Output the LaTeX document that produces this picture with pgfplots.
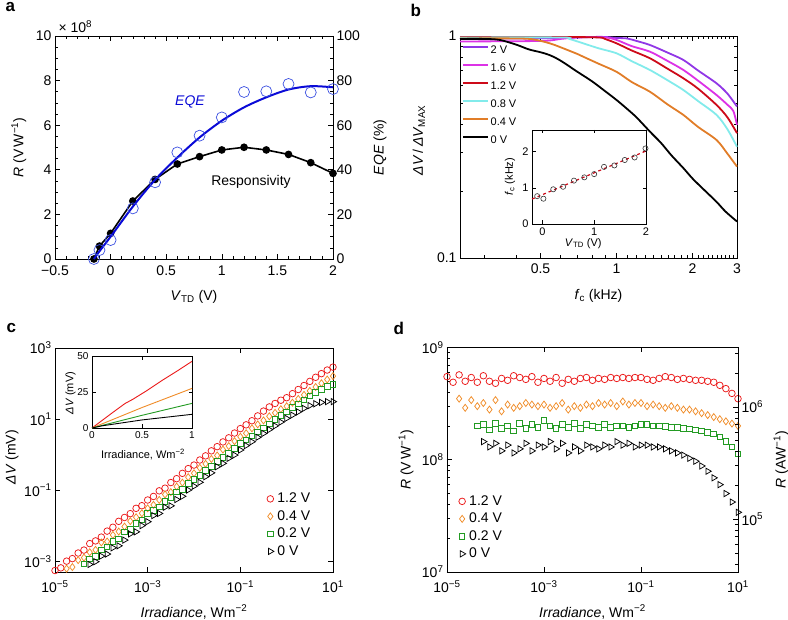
\documentclass[border=0pt]{standalone}
\usepackage{fontspec}
\setmainfont{Liberation Sans}
\usepackage{pgfplots}
\usepackage{pgfplotstable}
\pgfplotsset{compat=1.18}
\definecolor{cPur}{RGB}{145,55,230}
\definecolor{cMag}{RGB}{220,50,230}
\definecolor{cRed}{RGB}{205,10,25}
\definecolor{cCya}{RGB}{130,235,235}
\definecolor{cOra}{RGB}{225,125,40}
\definecolor{mRed}{RGB}{235,25,25}
\definecolor{mOra}{RGB}{240,140,40}
\definecolor{mGre}{RGB}{35,155,35}
\definecolor{aBlu}{RGB}{10,10,215}
\definecolor{aCir}{RGB}{60,80,225}
\newcommand{\fT}{\fontsize{14}{16}\selectfont}
\newcommand{\fI}{\fontsize{11}{13}\selectfont}
\newcommand{\fJ}{\fontsize{10}{12}\selectfont}
\newcommand{\fL}{\fontsize{11}{13}\selectfont}
\pgfplotsset{
  base/.style={scale only axis, clip=false, tick align=inside, anchor=south west,
    /pgf/number format/assume math mode=true,
    tick label style={font=\fT}, label style={font=\fT},
    axis line style={line width=0.8pt},
    every tick/.style={black, line width=0.6pt},
    major tick length=5pt, minor tick length=3pt},
  inset/.style={base, tick label style={font=\fI}, label style={font=\fI},
    major tick length=3.5pt, minor tick length=2pt},
  mk/.style={only marks, mark options={line width=0.75pt}},
  mleg/.style={legend style={draw=none, fill=none, anchor=north west,
    font=\fT, row sep=2pt, inner sep=0pt,
    nodes={inner xsep=3.5pt, inner ysep=1pt, text height=10.5pt, text depth=3pt}},
    legend cell align=left},
}
\pgfplotstableread{
E R dV
1e-5 5.5e8 5.5e-4
1.334e-5 4.9e8 6.54e-4
1.778e-5 5.7e8 1.01e-3
2.371e-5 5.0e8 1.19e-3
3.162e-5 5.4e8 1.71e-3
4.217e-5 4.9e8 2.07e-3
5.623e-5 5.6e8 3.15e-3
7.499e-5 5.0e8 3.75e-3
1e-4 4.8e8 4.8e-3
1.334e-4 5.3e8 7.07e-3
1.778e-4 5.1e8 9.07e-3
2.371e-4 5.6e8 1.33e-2
3.162e-4 5.4e8 1.71e-2
4.217e-4 5.2e8 2.19e-2
5.623e-4 5.5e8 3.09e-2
7.499e-4 4.9e8 3.67e-2
1e-3 5.3e8 5.3e-2
1.334e-3 5.0e8 6.67e-2
1.778e-3 5.4e8 9.6e-2
2.371e-3 4.8e8 0.114
3.162e-3 5.2e8 0.164
4.217e-3 5.0e8 0.211
5.623e-3 5.3e8 0.298
7.499e-3 5.4e8 0.405
1e-2 5.1e8 0.51
1.334e-2 5.3e8 0.707
1.778e-2 5.2e8 0.925
2.371e-2 5.4e8 1.28
3.162e-2 5.3e8 1.68
4.217e-2 5.4e8 2.28
5.623e-2 5.3e8 2.98
7.499e-2 5.4e8 4.05
0.1 5.4e8 5.4
0.1334 5.2e8 6.9
0.1778 5.1e8 9.0
0.2371 5.3e8 12.3
0.3162 5.5e8 16.8
0.4217 5.4e8 22
0.5623 5.2e8 27.5
0.7499 5.3e8 34
1 5.2e8 40
1.334 5.1e8 52
1.778 5.1e8 68
2.371 5.0e8 88
3.162 4.9e8 115
4.217 4.6e8 150
5.623 4.3e8 190
7.499 3.9e8 240
10 3.5e8 290
}\tRed
\pgfplotstableread{
E R dV
1.778e-5 3.5e8 6.22e-4
2.371e-5 2.9e8 6.88e-4
3.162e-5 3.4e8 1.08e-3
4.217e-5 3.0e8 1.27e-3
5.623e-5 3.2e8 1.80e-3
7.499e-5 2.8e8 2.10e-3
1e-4 3.4e8 3.4e-3
1.334e-4 2.7e8 3.60e-3
1.778e-4 3.1e8 5.51e-3
2.371e-4 2.9e8 6.88e-3
3.162e-4 3.0e8 9.49e-3
4.217e-4 3.2e8 1.35e-2
5.623e-4 3.1e8 1.74e-2
7.499e-4 3.0e8 2.25e-2
1e-3 3.1e8 3.1e-2
1.334e-3 2.9e8 3.87e-2
1.778e-3 3.0e8 5.33e-2
2.371e-3 3.2e8 7.59e-2
3.162e-3 2.8e8 8.85e-2
4.217e-3 3.0e8 0.1265
5.623e-3 2.9e8 0.163
7.499e-3 3.1e8 0.2325
1e-2 3.0e8 0.30
1.334e-2 3.2e8 0.427
1.778e-2 3.1e8 0.551
2.371e-2 3.2e8 0.759
3.162e-2 3.0e8 0.949
4.217e-2 3.3e8 1.39
5.623e-2 3.1e8 1.74
7.499e-2 3.2e8 2.40
0.1 3.2e8 3.2
0.1334 3.0e8 4.0
0.1778 3.1e8 5.5
0.2371 3.0e8 7.1
0.3162 2.9e8 9.2
0.4217 3.0e8 12.0
0.5623 2.9e8 15.0
0.7499 2.8e8 19.0
1 2.8e8 23
1.334 2.7e8 29
1.778 2.6e8 37
2.371 2.5e8 48
3.162 2.4e8 62
4.217 2.3e8 80
5.623 2.2e8 102
7.499 2.1e8 130
10 2.0e8 162
}\tOra
\pgfplotstableread{
E R dV
4.217e-5 2.0e8 8.43e-4
5.623e-5 2.05e8 1.15e-3
7.499e-5 1.85e8 1.39e-3
1e-4 2.1e8 2.1e-3
1.334e-4 1.9e8 2.53e-3
1.778e-4 2.0e8 3.56e-3
2.371e-4 1.8e8 4.27e-3
3.162e-4 2.1e8 6.64e-3
4.217e-4 1.9e8 8.01e-3
5.623e-4 2.05e8 1.15e-2
7.499e-4 1.95e8 1.46e-2
1e-3 2.25e8 2.25e-2
1.334e-3 2.0e8 2.67e-2
1.778e-3 1.9e8 3.38e-2
2.371e-3 2.05e8 4.86e-2
3.162e-3 1.95e8 6.17e-2
4.217e-3 2.1e8 8.86e-2
5.623e-3 1.9e8 0.107
7.499e-3 2.05e8 0.154
1e-2 2.0e8 0.20
1.334e-2 1.95e8 0.26
1.778e-2 2.05e8 0.364
2.371e-2 1.95e8 0.462
3.162e-2 2.0e8 0.632
4.217e-2 2.0e8 0.843
5.623e-2 1.95e8 1.10
7.499e-2 2.0e8 1.50
0.1 2.05e8 2.05
0.1334 2.05e8 2.6
0.1778 2.0e8 3.4
0.2371 2.0e8 4.4
0.3162 1.98e8 5.7
0.4217 1.95e8 7.4
0.5623 1.95e8 9.6
0.7499 1.9e8 12.5
1 1.88e8 16
1.334 1.85e8 21
1.778 1.8e8 27
2.371 1.75e8 35
3.162 1.7e8 45
4.217 1.6e8 57
5.623 1.45e8 69
7.499 1.3e8 82
10 1.13e8 95
}\tGre
\pgfplotstableread{
E R dV
5.623e-5 1.45e8 8.15e-4
7.499e-5 1.3e8 9.75e-4
1e-4 1.4e8 1.4e-3
1.334e-4 1.2e8 1.6e-3
1.778e-4 1.35e8 2.4e-3
2.371e-4 1.15e8 2.73e-3
3.162e-4 1.25e8 3.95e-3
4.217e-4 1.4e8 5.9e-3
5.623e-4 1.2e8 6.75e-3
7.499e-4 1.35e8 1.01e-2
1e-3 1.3e8 1.3e-2
1.334e-3 1.45e8 1.93e-2
1.778e-3 1.25e8 2.22e-2
2.371e-3 1.4e8 3.32e-2
3.162e-3 1.15e8 3.64e-2
4.217e-3 1.3e8 5.48e-2
5.623e-3 1.2e8 6.75e-2
7.499e-3 1.35e8 0.101
1e-2 1.3e8 0.13
1.334e-2 1.25e8 0.167
1.778e-2 1.35e8 0.24
2.371e-2 1.3e8 0.308
3.162e-2 1.45e8 0.458
4.217e-2 1.35e8 0.569
5.623e-2 1.4e8 0.787
7.499e-2 1.3e8 0.975
0.1 1.35e8 1.35
0.1334 1.35e8 1.8
0.1778 1.3e8 2.31
0.2371 1.3e8 3.08
0.3162 1.25e8 3.95
0.4217 1.2e8 5.06
0.5623 1.15e8 6.47
0.7499 1.1e8 8.25
1 1.03e8 10.5
1.334 9.7e7 13
1.778 8.8e7 16
2.371 7.9e7 20
3.162 6.9e7 24
4.217 6.0e7 27
5.623 5.0e7 29.5
7.499 4.2e7 31
10 3.4e7 31
}\tBla
\begin{document}
\begin{tikzpicture}
\path[use as bounding box] (0pt,0pt) rectangle (788pt,-620pt);
% ---------------- panel a
\begin{axis}[base, at={(55pt,-259pt)}, width=278pt, height=223pt,
  xmin=-0.5, xmax=2, ymin=0, ymax=10,
  xtick={-0.5,0,0.5,1,1.5,2}, xticklabels={−0.5,0,0.5,1,1.5,2},
  xticklabel style={yshift=-6.5pt, inner ysep=0pt},
  yticklabel style={inner ysep=0pt, text depth=0pt},
  minor x tick num=4, ytick={0,2,4,6,8,10}, minor y tick num=3, ytick pos=left,
  xlabel={\textit{V}\textsubscript{TD} (V)},
  xlabel style={at={(axis description cs:0.5,-0.17)}, anchor=center},
  ylabel={\textit{R} (V\,W\textsuperscript{−1})},
  ylabel style={at={(axis description cs:-0.13,0.5)}, anchor=center}]
\addplot[black, line width=1.6pt, mark=*, mark size=3pt] coordinates {
(-0.15,0) (-0.1,0.58) (0,1.15) (0.2,2.6) (0.4,3.57) (0.6,4.26) (0.8,4.59)
(1.0,4.89) (1.2,5.01) (1.4,4.89) (1.6,4.69) (1.8,4.32) (2.0,3.84)};
\end{axis}
\begin{axis}[base, at={(55pt,-259pt)}, width=278pt, height=223pt,
  xmin=-0.5, xmax=2, ymin=0, ymax=100, hide x axis, axis y line*=right,
  ytick={0,20,40,60,80,100}, minor y tick num=3,
  yticklabel style={inner ysep=0pt, text depth=0pt},
  ylabel={\textit{EQE} (\%)},
  ylabel style={at={(axis description cs:1.169,0.5)}, anchor=center}]
\addplot[only marks, mark=o, mark size=5.5pt, color=aCir, mark options={line width=0.7pt}] coordinates {
(-0.15,0) (-0.1,4) (0,8.5) (0.2,22.7) (0.4,34.4) (0.6,47.8) (0.8,55.3)
(1.0,63.5) (1.2,74.9) (1.4,75.2) (1.6,78.5) (1.8,74.7) (2.0,76.2)};
\addplot[aBlu, line width=2pt, smooth] coordinates {
(-0.15,0) (-0.1,3.5) (0,10) (0.2,23.5) (0.4,35.5) (0.6,45.5) (0.8,54.5)
(1.0,62) (1.2,68) (1.4,72.5) (1.6,76) (1.8,77.5) (2.0,77)};
\end{axis}
\node[anchor=west, font=\fT] at (55pt,-27pt) {× 10\textsuperscript{8}};
\node[font=\fT\itshape, text=aBlu] at (190pt,-102pt) {EQE};
\node[font=\fT] at (251pt,-182pt) {Responsivity};
% ---------------- panel b
\begin{axis}[base, at={(460pt,-258pt)}, width=277pt, height=222pt,
  xmode=log, ymode=log, xmin=0.24, xmax=3, ymin=0.1, ymax=1,
  xtick={0.5,1,2,3}, xticklabels={0.5,1,2,3},
  xticklabel style={yshift=-2pt},
  minor xtick={0.3,0.4,0.6,0.7,0.8,0.9,1.1,1.2,1.3,1.4,1.5,1.6,1.7,1.8,1.9,2.1,2.2,2.3,2.4,2.5,2.6,2.7,2.8,2.9},
  ytick={0.1,1}, yticklabels={0.1,1},
  minor ytick={0.2,0.3,0.4,0.5,0.6,0.7,0.8,0.9},
  xlabel={\textit{f}\textsubscript{c} (kHz)},
  xlabel style={at={(axis description cs:0.5,-0.172)}, anchor=center},
  ylabel={\textit{ΔV}\,/\,\textit{ΔV}\textsubscript{MAX}},
  ylabel style={at={(axis description cs:-0.148,0.53)}, anchor=center},
  legend style={draw=none, fill=none, at={(0.007,0.97)}, anchor=north west,
    font=\fL, row sep=3.5pt, inner sep=0pt,
    nodes={inner xsep=1.5pt, inner ysep=1pt, text height=10pt, text depth=2.5pt}},
  legend cell align=left,
  legend image code/.code={\draw[#1, line width=2pt] (0pt,3.5pt) -- (25pt,3.5pt);}]
\addplot[cPur, line width=1.8pt, smooth] coordinates {
(0.24,0.97) (0.4,0.975) (0.6,0.98) (0.8,0.99) (0.9,0.99) (1.0,0.98) (1.1,0.975) (1.2,0.95)
(1.356,0.911) (1.6,0.84) (1.84,0.78) (2.1,0.70) (2.49,0.612) (2.75,0.55) (3.0,0.481)};
\addlegendentry{2 V}
\addplot[cMag, line width=1.8pt, smooth] coordinates {
(0.24,0.945) (0.5,0.95) (0.6,0.97) (0.7,0.985) (0.9,0.985) (1.0,0.96) (1.15,0.90)
(1.356,0.85) (1.6,0.77) (1.84,0.703) (2.1,0.63) (2.49,0.542) (2.75,0.49) (2.9,0.46) (3.0,0.398)};
\addlegendentry{1.6 V}
\addplot[cRed, line width=1.8pt, smooth] coordinates {
(0.24,0.99) (0.6,0.99) (0.85,0.985) (0.9,0.97) (1.0,0.927) (1.15,0.86) (1.356,0.794)
(1.6,0.71) (1.84,0.645) (2.1,0.58) (2.49,0.489) (2.75,0.43) (3.0,0.365)};
\addlegendentry{1.2 V}
\addplot[cCya, line width=1.8pt, smooth] coordinates {
(0.24,0.985) (0.6,0.985) (0.65,0.97) (0.738,0.927) (0.85,0.88) (1.0,0.836) (1.15,0.77)
(1.356,0.703) (1.6,0.63) (1.84,0.571) (2.1,0.51) (2.49,0.441) (2.75,0.38) (3.0,0.317)};
\addlegendentry{0.8 V}
\addplot[cOra, line width=1.8pt, smooth] coordinates {
(0.24,0.975) (0.4,0.975) (0.47,0.965) (0.544,0.927) (0.6,0.89) (0.7,0.83) (0.738,0.807)
(0.85,0.75) (1.0,0.69) (1.15,0.62) (1.356,0.561) (1.6,0.49) (1.84,0.441) (2.1,0.39)
(2.49,0.34) (2.75,0.295) (3.0,0.258)};
\addlegendentry{0.4 V}
\addplot[black, line width=1.8pt, smooth] coordinates {
(0.24,0.97) (0.3,0.97) (0.345,0.96) (0.4,0.915) (0.45,0.87) (0.5,0.845) (0.544,0.82)
(0.6,0.775) (0.7,0.69) (0.8,0.625) (0.9,0.565) (1.0,0.515) (1.1,0.47) (1.2,0.43)
(1.356,0.371) (1.5,0.33) (1.65,0.29) (1.84,0.254) (2.0,0.228) (2.2,0.205) (2.49,0.179)
(2.7,0.162) (3.0,0.146)};
\addlegendentry{0 V}
\end{axis}
\begin{axis}[inset, at={(532pt,-224pt)}, width=114pt, height=94pt,
  xmin=-0.2, xmax=2, ymin=0, ymax=2.6, xtick={0,1,2}, ytick={0,1,2},
  xlabel={\textit{V}\textsubscript{TD} (V)},
  xlabel style={at={(axis description cs:0.45,-0.205)}, anchor=center},
  ylabel={\textit{f}\textsubscript{c} (kHz)},
  ylabel style={at={(axis description cs:-0.193,0.503)}, anchor=center}]
\addplot[cRed, line width=1.2pt, dashed] coordinates {(-0.2,0.69) (2,2.02)};
\addplot[only marks, mark=o, mark size=2.6pt, black!80, mark options={line width=0.6pt}] coordinates {
(-0.1,0.77) (0.02,0.70) (0.21,0.96) (0.4,1.03) (0.61,1.2) (0.81,1.29) (1.0,1.38)
(1.19,1.58) (1.39,1.62) (1.59,1.77) (1.78,1.84) (1.99,2.09)};
\end{axis}
% ---------------- panel c
\begin{axis}[base, mleg, at={(55pt,-572pt)}, width=278pt, height=224pt,
  xmode=log, ymode=log, xmin=1e-5, xmax=10, ymin=5e-4, ymax=1e3,
  xtick={1e-5,1e-3,1e-1,10},
  xticklabels={10\textsuperscript{−5},10\textsuperscript{−3},10\textsuperscript{−1},10\textsuperscript{1}},
  xticklabel style={yshift=-5pt},
  ytick={1e-3,1e-1,10,1e3},
  yticklabels={10\textsuperscript{−3},10\textsuperscript{−1},10\textsuperscript{1},10\textsuperscript{3}},
  minor xtick={}, minor ytick={},
  xlabel={\textit{Irradiance}, Wm\textsuperscript{−2}},
  xlabel style={at={(axis description cs:0.5,-0.178)}, anchor=center},
  ylabel={\textit{ΔV} (mV)},
  ylabel style={at={(axis description cs:-0.155,0.513)}, anchor=center},
  legend style={at={(0.762,0.362)}}]
\addplot[mk, mRed, mark=o, mark size=3.3pt] table[x=E, y=dV] {\tRed};
\addlegendentry{1.2 V}
\addplot[mk, mOra, mark=diamond, mark size=3.5pt] table[x=E, y=dV] {\tOra};
\addlegendentry{0.4 V}
\addplot[mk, mGre, mark=square, mark size=2.8pt, mark options={draw=mGre, line width=0.9pt}] table[x=E, y=dV] {\tGre};
\addlegendentry{0.2 V}
\addplot[mk, black, mark=triangle, mark size=3.6pt, mark options={rotate=-90, line width=0.75pt}] table[x=E, y=dV] {\tBla};
\addlegendentry{0 V}
\end{axis}
\begin{axis}[inset, at={(92pt,-428pt)}, width=100pt, height=72pt,
  tick label style={font=\fJ}, label style={font=\fI},
  xmin=0, xmax=1, ymin=0, ymax=50, xtick={0,0.5,1}, ytick={0,25,50},
  axis background/.style={fill=white},
  xlabel={Irradiance, Wm\textsuperscript{−2}},
  xlabel style={at={(axis description cs:0.51,-0.373)}, anchor=center},
  ylabel={\textit{ΔV} (mV)},
  ylabel style={at={(axis description cs:-0.215,0.484)}, anchor=center}]
\addplot[mRed, line width=0.9pt] coordinates {(0,0) (0.1,5.2) (0.2,10.4) (0.33,17) (0.41,20) (0.54,25.6) (0.7,33) (0.85,39.5) (1,46.3)};
\addplot[mOra, line width=0.9pt] coordinates {(0,0) (0.5,14.2) (1,27.5)};
\addplot[mGre, line width=0.9pt] coordinates {(0,0) (0.5,8.8) (1,17.1)};
\addplot[black, line width=0.9pt] coordinates {(0,0) (0.1,1.5) (0.5,5.6) (1,9.5)};
\end{axis}
% ---------------- panel d
\begin{axis}[base, mleg, at={(447pt,-572pt)}, width=291pt, height=224.5pt,
  xmode=log, ymode=log, xmin=1e-5, xmax=10, ymin=1e7, ymax=1e9,
  xtick={1e-5,1e-3,1e-1,10},
  xticklabels={10\textsuperscript{−5},10\textsuperscript{−3},10\textsuperscript{−1},10\textsuperscript{1}},
  xticklabel style={yshift=-5pt},
  ytick={1e7,1e8,1e9},
  yticklabels={10\textsuperscript{7},10\textsuperscript{8},10\textsuperscript{9}},
  minor xtick={}, minor ytick={}, ytick pos=left,
  xlabel={\textit{Irradiance}, Wm\textsuperscript{−2}},
  xlabel style={at={(axis description cs:0.5,-0.178)}, anchor=center},
  ylabel={\textit{R} (V\,W\textsuperscript{−1})},
  ylabel style={at={(axis description cs:-0.141,0.5)}, anchor=center},
  legend style={at={(0.04,0.35)}}]
\addplot[mk, mRed, mark=o, mark size=3.3pt] table[x=E, y=R] {\tRed};
\addlegendentry{1.2 V}
\addplot[mk, mOra, mark=diamond, mark size=3.5pt] table[x=E, y=R] {\tOra};
\addlegendentry{0.4 V}
\addplot[mk, mGre, mark=square, mark size=2.8pt, mark options={draw=mGre, line width=0.9pt}] table[x=E, y=R] {\tGre};
\addlegendentry{0.2 V}
\addplot[mk, black, mark=triangle, mark size=3.6pt, mark options={rotate=-90, line width=0.75pt}] table[x=E, y=R] {\tBla};
\addlegendentry{0 V}
\end{axis}
\begin{axis}[base, at={(447pt,-572pt)}, width=291pt, height=224.5pt,
  xmode=log, ymode=log, xmin=1e-5, xmax=10, ymin=3.39e4, ymax=3.39e6,
  hide x axis, axis y line*=right,
  ytick={1e5,1e6}, yticklabels={10\textsuperscript{5},10\textsuperscript{6}},
  minor ytick={4e4,5e4,6e4,7e4,8e4,9e4,2e5,3e5,4e5,5e5,6e5,7e5,8e5,9e5,2e6,3e6},
  ylabel={\textit{R} (AW\textsuperscript{−1})},
  ylabel style={at={(axis description cs:1.148,0.5)}, anchor=center}]
\addplot[draw=none] coordinates {(1e-5,1e5)};
\end{axis}
% ---------------- panel letters
\node[anchor=base west, font=\fontsize{17}{17}\bfseries\selectfont] at (2pt,-12pt) {a};
\node[anchor=base west, font=\fontsize{17}{17}\bfseries\selectfont] at (407pt,-17pt) {b};
\node[anchor=base west, font=\fontsize{17}{17}\bfseries\selectfont] at (3pt,-333pt) {c};
\node[anchor=base west, font=\fontsize{17}{17}\bfseries\selectfont] at (390pt,-335pt) {d};
\end{tikzpicture}
\end{document}
